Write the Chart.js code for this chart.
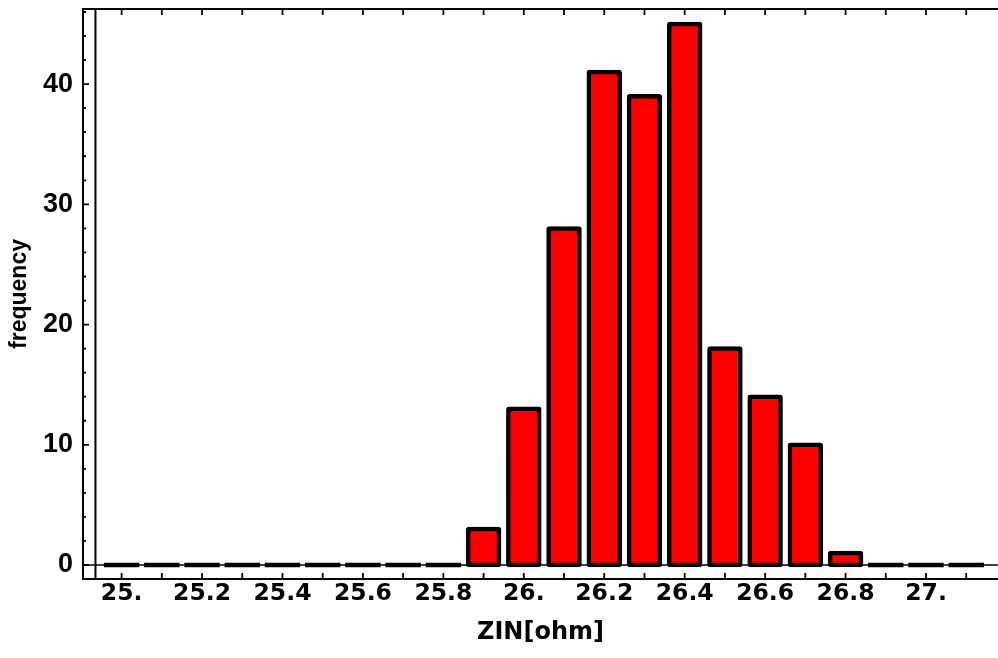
<!DOCTYPE html>
<html><head><meta charset="utf-8">
<script src="https://cdn.jsdelivr.net/npm/chart.js@4/dist/chart.umd.min.js"></script>
<style>html,body{margin:0;padding:0;background:#fff;}canvas{display:block;}</style>
</head><body>
<canvas id="c" width="998" height="658"></canvas>
<script>
const binCenters = [25.0,25.1,25.2,25.3,25.4,25.5,25.6,25.7,25.8,25.9,26.0,26.1,26.2,26.3,26.4,26.5,26.6,26.7,26.8,26.9,27.0,27.1];
const frequency  = [0,0,0,0,0,0,0,0,0,3,13,28,41,39,45,18,14,10,1,0,0,0];
const xTickValues = [25.0,25.2,25.4,25.6,25.8,26.0,26.2,26.4,26.6,26.8,27.0];
const xTickLabels = ["25.","25.2","25.4","25.6","25.8","26.","26.2","26.4","26.6","26.8","27."];
const yTickValues = [0,10,20,30,40];
const yTickLabels = ["0","10","20","30","40"];
const yMinorTickValues = [2,4,6,8,12,14,16,18,22,24,26,28,32,34,36,38,42,44,46];
const xLabel = "ZIN[ohm]";
const yLabel = "frequency";

const isZero = c => c.raw && c.raw.y === 0;

const framePlugin = {
  id: 'frame',
  beforeDatasetsDraw(chart) {
    const {ctx, chartArea: a, scales: {x, y}} = chart;
    ctx.save();
    ctx.strokeStyle = '#000';
    ctx.lineWidth = 1.5;
    const y0 = y.getPixelForValue(0);
    ctx.beginPath(); ctx.moveTo(a.left, y0); ctx.lineTo(a.right, y0); ctx.stroke();
    ctx.lineWidth = 2;
    const xa = x.getPixelForValue(24.935);
    ctx.beginPath(); ctx.moveTo(xa, a.top); ctx.lineTo(xa, a.bottom); ctx.stroke();
    ctx.restore();
  },
  afterDraw(chart) {
    const {ctx, chartArea: a, scales: {x, y}} = chart;
    ctx.save();
    ctx.strokeStyle = '#000';
    ctx.lineWidth = 2;
    ctx.beginPath();
    ctx.moveTo(a.right, a.top); ctx.lineTo(a.left, a.top); ctx.lineTo(a.left, a.bottom); ctx.lineTo(a.right, a.bottom);
    ctx.stroke();
    ctx.lineWidth = 1.8;
    ctx.beginPath();
    binCenters.forEach(v => {
      const px = x.getPixelForValue(v);
      ctx.moveTo(px, a.bottom); ctx.lineTo(px, a.bottom - 6);
      ctx.moveTo(px, a.top); ctx.lineTo(px, a.top + 6);
    });
    yTickValues.forEach(v => {
      const py = y.getPixelForValue(v);
      ctx.moveTo(a.left, py); ctx.lineTo(a.left + 6, py);
    });
    yMinorTickValues.forEach(v => {
      const py = y.getPixelForValue(v);
      ctx.moveTo(a.left, py); ctx.lineTo(a.left + 3, py);
    });
    ctx.stroke();
    ctx.restore();
  }
};

new Chart(document.getElementById('c'), {
  type: 'bar',
  data: {
    datasets: [{
      data: binCenters.map((v, i) => ({x: v, y: frequency[i]})),
      backgroundColor: c => isZero(c) ? '#000000' : '#ff0000',
      borderColor: '#000000',
      borderWidth: c => isZero(c) ? 0 : 4.5,
      inflateAmount: c => isZero(c) ? 2.2 : 2.25,
      borderSkipped: false,
      borderRadius: 3,
      barPercentage: 0.77,
      categoryPercentage: 1
    }]
  },
  options: {
    responsive: false,
    animation: false,
    devicePixelRatio: 1,
    layout: {padding: {top: 9, right: 0, left: 0, bottom: 0}},
    plugins: {legend: {display: false}, tooltip: {enabled: false}},
    scales: {
      x: {
        type: 'linear', min: 24.904, max: 27.179, offset: false,
        grid: {display: false, drawTicks: false}, border: {display: false},
        afterBuildTicks: s => { s.ticks = xTickValues.map(v => ({value: v})); },
        afterFit: s => { s.height = 79; s.paddingLeft = 0; s.paddingRight = 0; },
        ticks: {autoSkip: false, maxRotation: 0, minRotation: 0, padding: 1, color: '#000',
          font: {family: 'DejaVu Sans', weight: 'bold', size: 23.5},
          callback: (v, i) => xTickLabels[i]},
        title: {display: true, text: xLabel, color: '#000',
          font: {family: 'DejaVu Sans', weight: 'bold', size: 24}, padding: {top: 0, bottom: 11}}
      },
      y: {
        min: -1.164, max: 46.25,
        grid: {display: false, drawTicks: false}, border: {display: false},
        afterBuildTicks: s => { s.ticks = yTickValues.map(v => ({value: v})); },
        afterFit: s => { s.width = 83; s.paddingTop = 0; s.paddingBottom = 0; },
        ticks: {padding: 10, color: '#000',
          font: {family: 'Liberation Sans', weight: 'bold', size: 27},
          callback: (v, i) => yTickLabels[i]},
        title: {display: true, text: yLabel, color: '#000',
          font: {family: 'Liberation Sans', weight: 'bold', size: 23}, padding: {top: 6, bottom: 0}}
      }
    }
  },
  plugins: [framePlugin]
});
</script>
</body></html>
